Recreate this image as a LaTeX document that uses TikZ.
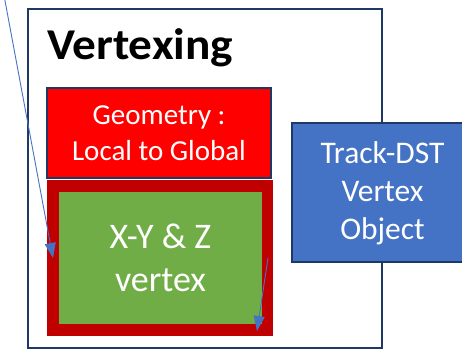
\documentclass[tikz,border=0pt]{standalone}
\usepackage{graphicx}
\usepackage{fontspec}
\setmainfont{Carlito}
\usetikzlibrary{arrows.meta,positioning}
\definecolor{navy}{HTML}{1F3864}
\definecolor{geored}{HTML}{FF0000}
\definecolor{darkred}{HTML}{C00000}
\definecolor{vtxgreen}{HTML}{70AD47}
\definecolor{dstblue}{HTML}{4472C4}

\begin{document}
\begin{tikzpicture}[
    x=1pt, y=-1pt,
    every node/.style={inner sep=0pt, outer sep=0pt},
    frame/.style={draw=navy, line width=2pt},
    geo/.style={frame, fill=geored, text=white, align=center, minimum width=224pt, minimum height=90pt, font=\fontsize{29}{36}\selectfont},
    holder/.style={fill=darkred, minimum width=226pt, minimum height=156pt},
    vtx/.style={fill=vtxgreen, text=white, align=center, minimum width=203pt, minimum height=132pt, font=\fontsize{36}{43}\selectfont},
    dst/.style={fill=dstblue, minimum width=200pt, minimum height=139pt},
    dsttext/.style={text=white, align=center, font=\fontsize{31.5}{38}\selectfont},
    flow/.style={-{Triangle[length=15pt, width=11pt]}, draw=dstblue, line width=0.9pt}
]
\useasboundingbox (0,0) rectangle (462,350);
\clip (0,0) rectangle (462,350);
\node[frame, minimum width=354pt, minimum height=339pt] (vertexing) at (205,178.5) {};
\node[anchor=base west, font=\fontsize{44}{52}\selectfont\bfseries] (title) at (47,60) {\scalebox{1.075}[1]{Vertexing}};
\node[geo] (geometry) at (159,133) {Geometry :\\Local to Global};
\node[holder] (holder) at (160,258) {};
\node[vtx] (xyz) at (160.5,258) {X-Y \& Z\\vertex};
\node[dst, anchor=west] (trackdst) at (292,192.5) {};
\draw[navy, line width=2pt] (trackdst.north east) -- (trackdst.north west) -- (trackdst.south west) -- (trackdst.south east);
\node[dsttext] (trackdsttext) at (382.5,193) {Track-DST\\Vertex\\Object};
\coordinate (in1) at (3,-10);
\coordinate (tip1) at (53,258);
\coordinate (in2) at (268,258);
\coordinate (tip2) at (257,331);
\draw[flow] (in1) -- (tip1);
\draw[flow] (in2) -- (tip2);
\end{tikzpicture}
\end{document}
